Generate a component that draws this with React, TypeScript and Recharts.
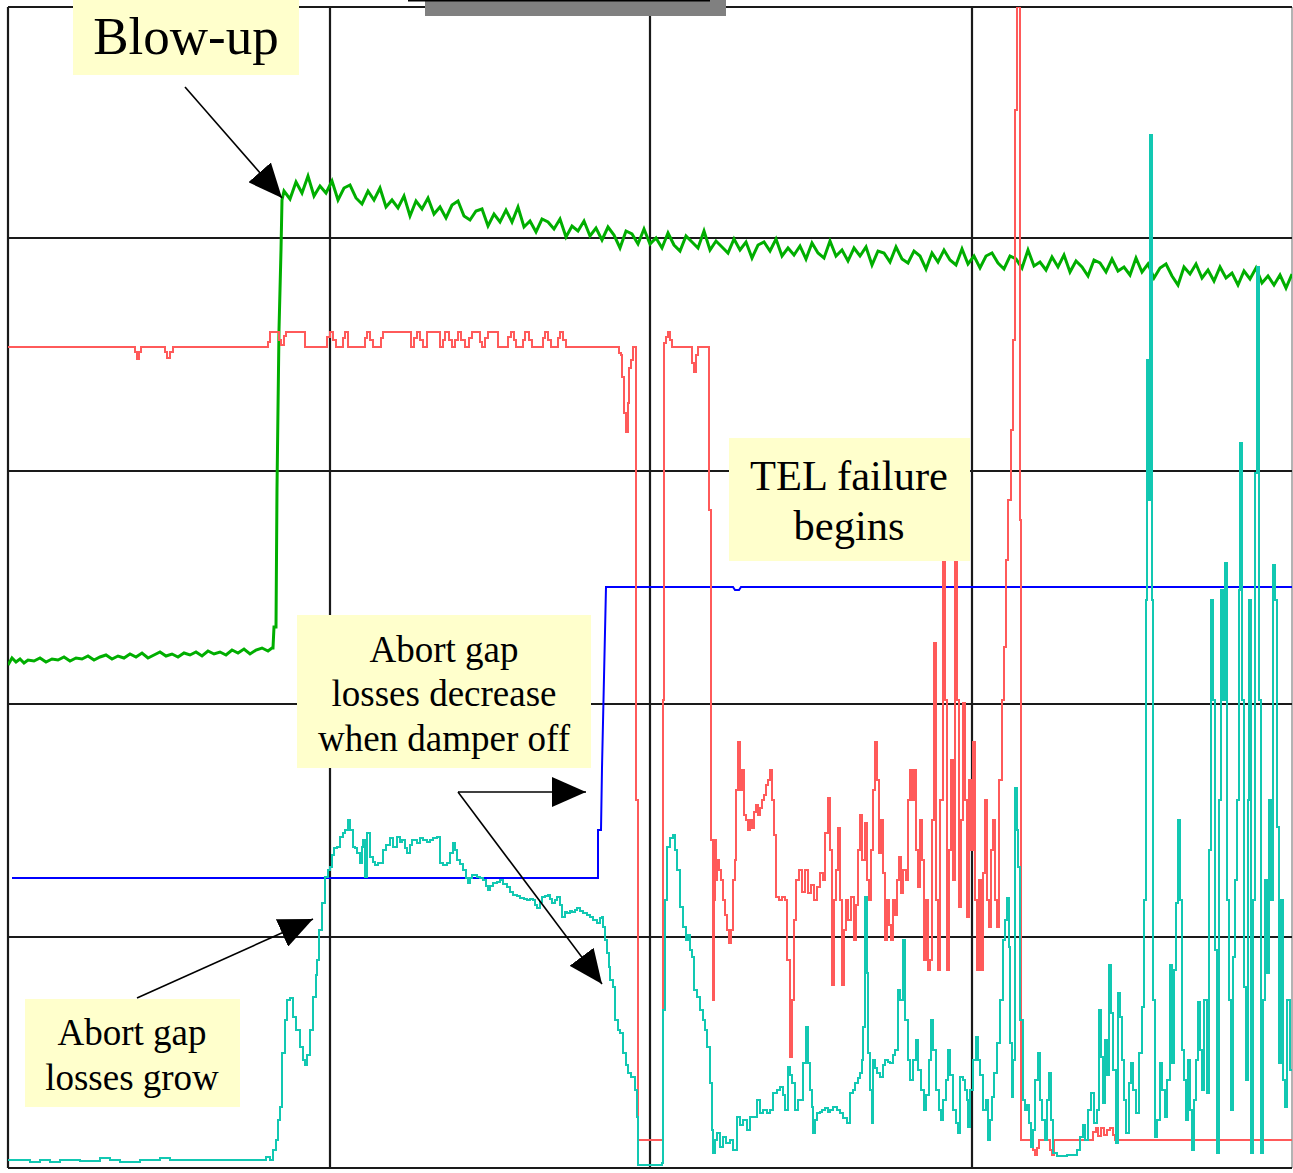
import React from 'react';
import { ComposedChart, Line, XAxis, YAxis, ReferenceLine } from 'recharts';

type P = [number, number];

// grid divisions (time axis / signal axis)
const timeGrid = [0, 322, 642, 964, 1284];
const signalGrid = [0, 231, 464, 697, 930, 1161];

// Emittance / beam size trace (green)
const greenTrace: P[] = [
  [0,503],[4,510],[8,506],[12,509],[16,505],[20,508],[26,507],[32,510],[38,506],[44,509],[50,508],[56,511],[62,507],[68,510],[74,509],[80,512],[86,508],[92,511],[98,513],[104,509],[110,512],[116,510],[122,514],[128,511],[134,515],[140,510],[146,513],[152,516],[158,512],[164,514],[170,511],[176,515],[182,513],[188,516],[194,512],[200,517],[206,514],[212,516],[218,513],[224,518],[230,515],[236,519],[242,514],[248,518],[254,520],[260,517],[264,520],
  [265,520],[266,541],[268,541],[269,680],[271,838],[273,918],[274,968],
  [276,977],[282,969],[288,986],[294,975],[300,992],[306,972],[312,982],[318,975],[324,987],[330,968],
  [336,980],[342,983],[348,970],[354,964],[360,977],[366,968],[372,980],[378,961],[384,968],[390,960],
  [396,972],[402,952],[408,967],[414,959],[420,970],[426,954],[432,961],[438,950],[444,963],[450,967],
  [456,952],[462,948],[468,957],[474,959],[480,942],[486,954],[492,946],[498,958],[504,946],[510,961],
  [516,941],[522,947],[528,936],[534,949],[540,946],[546,939],[552,949],[558,931],[564,942],[570,937],
  [576,947],[582,932],[588,940],[594,928],[600,941],[606,933],[612,920],[618,937],[624,934],[630,924],
  [636,939],[642,924],[648,930],[654,920],[660,935],[666,923],[672,917],[678,932],[684,926],[690,920],
  [696,937],[702,918],[708,927],[714,921],[720,915],[726,929],[732,918],[738,926],[744,910],[750,923],
  [756,926],[762,917],[768,929],[774,912],[780,920],[786,913],[792,922],[798,909],[804,925],[810,915],
  [816,910],[822,927],[828,912],[834,918],[840,907],[846,920],[852,912],[858,921],[864,903],[870,917],
  [876,915],[882,906],[888,921],[894,909],[900,905],[906,917],[912,912],[918,899],[924,915],[930,906],
  [936,918],[942,908],[948,903],[954,919],[960,904],[966,912],[972,900],[978,912],[984,915],[990,905],
  [996,899],[1002,912],[1008,909],[1014,900],[1020,918],[1026,902],[1032,906],[1038,898],[1044,911],[1050,901],
  [1056,913],[1062,896],[1068,907],[1074,901],[1080,892],[1086,908],[1092,905],[1098,896],[1104,909],[1110,897],
  [1116,901],[1122,893],[1128,910],[1134,896],[1140,904],[1146,890],[1152,900],[1158,904],[1164,892],[1170,883],
  [1176,901],[1182,894],[1188,904],[1194,890],[1200,898],[1206,887],[1212,901],[1218,890],[1224,895],[1230,883],
  [1236,897],[1242,889],[1248,900],[1254,885],[1260,892],[1266,883],[1272,893],[1278,880],[1284,894],
];

// Damper state (blue)
const blueTrace: P[] = [
  [4,290],[590,290],[590,338],[593,338],[594,400],[598,581],[725,581],[727,578],[731,578],[733,581],[1285,581],
];

// Signal (red)
const redTrace: P[] = [
  [0,821],[125,821],[127,816],[129,809],[131,816],[133,821],[155,821],[157,816],[159,810],[162,816],[165,821],
  [259,821],[260,826],[262,836],[269,836],[271,828],[273,823],[276,832],[278,836],[294,836],[297,821],
  [315,821],[319,831],[322,836],[325,828],[328,821],[332,821],[335,830],[337,836],[340,821],[355,821],
  [357,830],[359,836],[362,828],[365,821],[370,821],[373,830],[375,836],[400,836],[403,821],[406,830],
  [409,836],[412,828],[415,821],[419,836],[429,836],[432,821],[435,828],[437,836],[441,828],[444,821],
  [447,828],[450,836],[453,828],[457,821],[461,830],[464,836],[469,836],[472,826],[474,821],[477,830],
  [480,836],[487,836],[490,821],[497,821],[500,831],[503,836],[506,828],[508,821],[512,821],[515,828],
  [517,836],[521,828],[524,821],[533,821],[535,830],[537,836],[540,828],[543,821],[548,821],[550,830],
  [552,836],[555,828],[558,821],[609,821],[611,815],[613,813],[614,791],[616,755],[618,736],[620,765],
  [621,800],[623,808],[625,821],[626,821],[628,368],[630,28],[654,28],[655,468],[656,825],[658,831],
  [660,836],[662,828],[664,821],[682,821],[684,805],[686,796],[688,813],[690,821],[699,821],[701,658],
  [703,328],[705,168],[706,268],[707,328],[708,288],[709,308],[711,298],[713,288],[715,268],[717,253],
  [719,238],[721,225],[723,238],[725,288],[727,308],[728,378],[730,426],[732,378],[734,398],[736,353],
  [738,348],[740,338],[742,348],[744,340],[746,356],[748,363],[750,353],[752,360],[754,368],[756,373],
  [758,383],[760,388],[762,398],[764,368],[766,333],[768,271],[771,268],[774,271],[777,268],[779,208],
  [782,111],[784,168],[786,248],[788,288],[791,298],[794,276],[797,298],[800,275],[803,283],[806,268],
  [809,281],[812,295],[815,288],[817,335],[820,370],[822,318],[824,183],[826,268],[828,298],[830,340],
  [832,268],[834,183],[836,238],[838,268],[840,248],[843,271],[846,228],[848,263],[850,318],[852,353],
  [854,308],[857,345],[859,288],[861,268],[863,318],[865,378],[867,426],[869,388],[871,315],[873,348],
  [875,295],[877,228],[879,268],[881,243],[883,228],[885,268],[887,253],[889,288],[891,311],[893,275],
  [895,298],[898,288],[900,368],[902,398],[904,368],[906,398],[908,318],[910,281],[912,348],[914,308],
  [916,208],[918,268],[920,198],[922,208],[924,348],[926,525],[928,268],[930,198],[932,368],[935,648],
  [937,468],[939,198],[941,318],[943,408],[945,288],[947,648],[949,468],[951,261],[953,348],[955,465],
  [957,368],[959,251],[961,388],[963,318],[965,426],[967,268],[969,198],[971,288],[973,198],[975,295],
  [977,368],[979,268],[981,241],[983,318],[985,348],[987,268],[989,241],[991,388],[994,468],[996,521],
  [998,608],[1000,668],[1003,738],[1005,828],[1007,1058],[1009,1161],[1011,1161],[1012,648],[1013,28],
  [1022,28],[1025,18],[1027,13],[1029,20],[1031,28],[1039,28],[1042,18],[1044,13],[1046,28],[1082,28],
  [1085,36],[1088,40],[1090,32],[1093,40],[1096,33],[1099,38],[1102,40],[1105,33],[1107,28],[1285,28],
];

// Abort gap losses (teal)
const tealTrace: P[] = [
  [0,8],[22,6],[32,8],[42,6],[52,8],[72,7],[92,10],[102,8],[112,6],[132,8],[152,10],[162,8],[192,8],[222,8],
  [254,8],[258,11],[262,8],[265,18],[268,28],[270,48],[272,61],[274,115],[277,148],[279,168],[282,170],
  [285,151],[288,138],[292,121],[295,108],[297,103],[299,113],[302,138],[305,171],[308,193],[309,208],
  [311,238],[314,265],[317,291],[320,298],[322,301],[324,313],[326,320],[329,321],[332,331],[335,335],
  [337,338],[340,348],[342,338],[345,321],[347,320],[349,315],[352,305],[354,321],[355,328],[357,291],
  [359,335],[362,311],[365,306],[367,303],[370,305],[375,318],[378,323],[382,330],[385,321],[389,331],
  [392,326],[394,328],[397,320],[399,315],[402,323],[404,328],[409,325],[412,330],[415,328],[419,326],
  [422,328],[425,330],[429,331],[432,305],[435,303],[439,305],[442,315],[445,325],[447,318],[449,308],
  [452,304],[455,298],[458,290],[460,285],[462,290],[464,293],[469,291],[472,290],[475,288],[478,282],
  [480,278],[482,282],[485,285],[489,286],[492,288],[495,284],[499,281],[502,276],[505,273],[509,272],
  [512,270],[516,269],[519,268],[522,269],[525,268],[527,263],[529,260],[532,266],[534,271],[537,272],
  [540,273],[542,269],[544,265],[547,268],[549,271],[552,263],[554,251],[557,256],[559,255],[562,257],
  [564,256],[567,258],[569,260],[572,257],[575,255],[579,253],[582,251],[585,248],[589,245],[592,250],
  [594,251],[595,241],[597,228],[599,215],[601,201],[602,188],[605,181],[607,148],[610,138],[612,135],
  [615,115],[618,103],[620,95],[623,91],[625,91],[627,78],[629,51],[630,3],[642,3],[654,5],[655,158],
  [657,268],[659,321],[662,330],[665,333],[667,318],[669,298],[672,261],[675,241],[678,228],[680,233],
  [682,218],[684,211],[686,178],[689,171],[692,158],[695,148],[697,138],[699,121],[702,85],[704,38],
  [705,15],[707,28],[709,35],[712,21],[715,31],[718,25],[722,28],[725,18],[729,51],[732,43],[735,48],
  [739,38],[742,51],[746,51],[749,68],[752,55],[755,58],[759,55],[762,58],[765,75],[769,78],[772,81],
  [775,73],[777,58],[780,101],[782,93],[784,85],[787,58],[790,68],[792,68],[795,105],[798,141],[800,105],
  [802,78],[804,61],[805,35],[807,48],[809,55],[812,56],[814,58],[817,60],[820,56],[822,58],[825,61],
  [829,58],[832,55],[835,50],[839,45],[842,75],[845,78],[847,85],[850,90],[852,95],[854,108],[855,141],
  [857,271],[859,195],[860,115],[862,78],[864,45],[865,108],[867,100],[869,95],[872,91],[875,103],
  [877,108],[880,106],[882,105],[885,113],[887,118],[890,178],[892,168],[895,228],[897,148],[900,108],
  [902,88],[905,108],[908,128],[910,98],[913,78],[916,58],[918,73],[921,108],[923,148],[925,118],[928,78],
  [931,58],[933,48],[935,68],[938,88],[940,118],[942,93],[945,58],[948,45],[950,35],[952,91],[955,88],
  [957,78],[959,68],[960,41],[962,78],[965,108],[968,131],[970,108],[972,93],[975,58],[978,68],[980,28],
  [982,48],[984,71],[986,95],[989,125],[992,168],[995,228],[997,248],[999,270],[1001,221],[1002,125],
  [1004,71],[1005,108],[1007,380],[1009,338],[1010,301],[1012,148],[1015,68],[1017,58],[1019,63],
  [1021,45],[1023,21],[1025,38],[1027,88],[1030,115],[1032,68],[1034,48],[1037,28],[1039,68],[1041,95],
  [1043,48],[1045,15],[1049,12],[1054,12],[1059,13],[1064,13],[1069,18],[1072,31],[1075,43],[1077,28],
  [1080,58],[1083,75],[1086,45],[1089,58],[1091,158],[1093,111],[1095,65],[1097,128],[1099,93],[1101,203],
  [1103,155],[1105,98],[1108,25],[1110,175],[1112,151],[1114,108],[1116,68],[1118,35],[1121,85],[1123,105],
  [1125,78],[1128,55],[1131,115],[1134,161],[1136,268],[1138,568],[1139,808],[1141,668],[1142,1033],
  [1144,568],[1145,168],[1147,31],[1149,48],[1152,105],[1154,78],[1157,51],[1159,88],[1162,203],[1164,105],
  [1166,198],[1168,265],[1170,348],[1172,268],[1174,118],[1176,88],[1178,48],[1180,108],[1182,58],[1184,18],
  [1186,68],[1188,108],[1190,166],[1192,118],[1194,78],[1196,168],[1199,75],[1201,318],[1203,568],[1205,468],
  [1207,218],[1209,15],[1211,368],[1213,578],[1215,468],[1217,605],[1219,268],[1221,168],[1223,58],[1225,211],
  [1227,288],[1229,368],[1231,578],[1232,725],[1234,468],[1236,181],[1238,88],[1240,368],[1241,568],[1243,15],
  [1245,268],[1247,695],[1249,901],[1251,468],[1253,15],[1255,168],[1257,288],[1259,195],[1261,368],[1263,268],
  [1265,603],[1267,568],[1269,341],[1271,105],[1273,268],[1275,88],[1277,61],[1279,168],[1282,98],[1284,98],
];

const toRows = (arr: P[]) => arr.map(([t, v]) => ({ t, v }));

const Arrow = ({ x1, y1, x2, y2 }: { x1: number; y1: number; x2: number; y2: number }) => (
  <line x1={x1} y1={y1} x2={x2} y2={y2} stroke="#000" strokeWidth={1.6} markerEnd="url(#head)" />
);

const serif = '"Liberation Serif", "Times New Roman", serif';

export default function App() {
  return (
    <div style={{ position: 'absolute', left: 0, top: 0, width: 1293, height: 1173, background: '#fff' }}>
      <ComposedChart width={1293} height={1173} margin={{ top: 7, right: 1, bottom: 5, left: 8 }}>
        <XAxis dataKey="t" type="number" domain={[0, 1284]} hide allowDataOverflow />
        <YAxis dataKey="v" type="number" domain={[0, 1161]} hide allowDataOverflow />
        {timeGrid.map((x, i) => (
          <ReferenceLine key={'gx' + x} x={x} stroke={i === timeGrid.length - 1 ? '#9a9a9a' : '#1a1a1a'} strokeWidth={i === timeGrid.length - 1 ? 1.5 : 2.2} ifOverflow="visible" />
        ))}
        {signalGrid.map((y) => (
          <ReferenceLine key={'gy' + y} y={y} stroke="#1a1a1a" strokeWidth={2.2} ifOverflow="visible" />
        ))}
        <Line data={toRows(greenTrace)} dataKey="v" type="linear" stroke="#00ae00" strokeWidth={3} dot={false} isAnimationActive={false} />
        <Line data={toRows(blueTrace)} dataKey="v" type="linear" stroke="#0000ff" strokeWidth={2} dot={false} isAnimationActive={false} />
        <Line data={toRows(redTrace)} dataKey="v" type="stepAfter" stroke="#ff5a5a" strokeWidth={2} dot={false} isAnimationActive={false} />
        <Line data={toRows(tealTrace)} dataKey="v" type="stepAfter" stroke="#12c8b2" strokeWidth={2} dot={false} isAnimationActive={false} />
      </ComposedChart>
      <svg width={1293} height={1173} style={{ position: 'absolute', left: 0, top: 0, pointerEvents: 'none' }}>
        <defs>
          <marker id="head" markerUnits="userSpaceOnUse" markerWidth={36} markerHeight={30} refX={34} refY={15} orient="auto">
            <path d="M0,0 L34,15 L0,30 z" fill="#000" />
          </marker>
        </defs>
        <rect x={425} y={0} width={301} height={16} fill="#808080" />
        <line x1={408} y1={0.8} x2={710} y2={0.8} stroke="#000" strokeWidth={1.6} />

        <rect x={73} y={0} width={226} height={75} fill="#ffffcc" />
        <text x={186} y={54} textAnchor="middle" fontFamily={serif} fontSize={53} fill="#000">Blow-up</text>

        <rect x={729} y={438} width={241} height={123} fill="#ffffcc" />
        <text x={849} y={490} textAnchor="middle" fontFamily={serif} fontSize={42.5} fill="#000">TEL failure</text>
        <text x={849} y={540} textAnchor="middle" fontFamily={serif} fontSize={42.5} fill="#000">begins</text>

        <rect x={297} y={615} width={294} height={153} fill="#ffffcc" />
        <text x={444} y={662} textAnchor="middle" fontFamily={serif} fontSize={37} fill="#000">Abort gap</text>
        <text x={444} y={706} textAnchor="middle" fontFamily={serif} fontSize={37} fill="#000">losses decrease</text>
        <text x={444} y={751} textAnchor="middle" fontFamily={serif} fontSize={37} fill="#000">when damper off</text>

        <rect x={25} y={999} width={215} height={108} fill="#ffffcc" />
        <text x={132} y={1045} textAnchor="middle" fontFamily={serif} fontSize={37} fill="#000">Abort gap</text>
        <text x={132} y={1090} textAnchor="middle" fontFamily={serif} fontSize={37} fill="#000">losses grow</text>

        <Arrow x1={185} y1={87} x2={282} y2={198} />
        <Arrow x1={137} y1={998} x2={313} y2={919} />
        <Arrow x1={458} y1={792} x2={586} y2={792} />
        <Arrow x1={458} y1={792} x2={602} y2={984} />
      </svg>
    </div>
  );
}
